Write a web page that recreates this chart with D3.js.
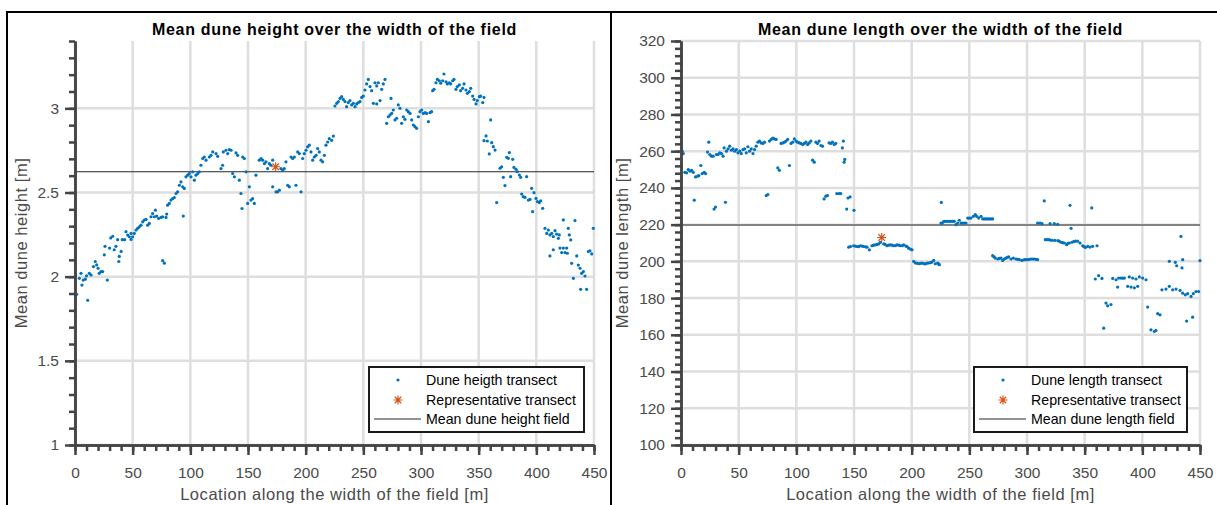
<!DOCTYPE html>
<html>
<head>
<meta charset="utf-8">
<script src="https://cdn.jsdelivr.net/npm/d3@7"></script>
<style>
  body { margin: 0; background: #fff; }
  text { font-family: "Liberation Sans", Arial, sans-serif; }
</style>
</head>
<body>
<div id="chart"></div>
<script>
// ---- data ----
// x = location along the width of the field [m], y = mean dune height [m]
var heightPts = [
  [1.4,1.895],[3.8,1.99],[5.2,2.02],[6,1.95],[7.2,1.98],[9,1.985],[10,2.005],[11,1.86],[12.4,2.02],[13.9,2.01],
  [16,2.06],[17.6,2.09],[18.8,2.07],[20,2.05],[21,2.02],[22.5,2.03],[24,2.03],[25.4,2.13],[26,2.18],[28,1.98],
  [30,2.17],[31,2.23],[32.7,2.24],[34,2.16],[35.5,2.18],[37,2.22],[38,2.09],[38.4,2.12],[40,2.15],[41,2.22],
  [43,2.22],[44.2,2.267],[45.7,2.247],[47.1,2.237],[48.6,2.221],[50,2.237],[48.6,2.257],[51.4,2.257],[52.9,2.277],[54.3,2.287],
  [55.8,2.296],[57.2,2.306],[58.7,2.326],[60.1,2.336],[61.6,2.34],[63,2.306],[64.5,2.316],[65.9,2.356],[67.3,2.375],[68.8,2.356],
  [69.7,2.395],[70.8,2.36],[72.5,2.346],[74.6,2.352],[76,2.356],[78.9,2.352],[79.5,2.372],[76,2.095],[77.5,2.08],[80.3,2.425],
  [81.8,2.435],[83.2,2.455],[84.7,2.464],[86.1,2.47],[87.6,2.494],[89,2.504],[90.5,2.543],[91.9,2.563],[93.4,2.534],[94.8,2.524],
  [93.9,2.36],[96.2,2.593],[97.7,2.603],[99.1,2.613],[100.6,2.593],[102,2.623],[103.5,2.573],[104.9,2.603],[106.4,2.613],[107.8,2.623],
  [109.2,2.662],[110.7,2.702],[112.1,2.711],[113.6,2.692],[116.5,2.711],[117.9,2.721],[119.4,2.741],[122.3,2.731],[123.7,2.715],[126.6,2.642],
  [128,2.662],[128.6,2.741],[130.9,2.751],[132.4,2.731],[133.8,2.755],[135.3,2.751],[136.7,2.613],[138.2,2.593],[139.6,2.735],[141,2.721],
  [142.5,2.573],[143.9,2.494],[144.8,2.405],[145.4,2.711],[146.8,2.702],[148.3,2.623],[149.7,2.435],[151.2,2.534],[152.6,2.455],[154,2.464],
  [155.5,2.435],[156.9,2.603],[159.8,2.692],[161.3,2.702],[162.7,2.692],[164.2,2.672],[165.6,2.682],[167,2.642],[168.5,2.672],[169.9,2.662],
  [171.4,2.692],[171.4,2.534],[174.3,2.504],[175.7,2.504],[177.2,2.514],[178.6,2.642],[180,2.632],[181.5,2.642],[182.9,2.682],[184.4,2.543],
  [185.8,2.534],[187.3,2.711],[188.7,2.702],[190.2,2.711],[191.6,2.543],[193.1,2.741],[194.5,2.731],[196,2.504],[197.4,2.702],[198.8,2.731],
  [200.3,2.751],[201.7,2.771],[203.2,2.781],[204.6,2.741],[206.1,2.692],[207.5,2.711],[209,2.721],[210.4,2.761],[211.8,2.741],[213.3,2.692],
  [214.7,2.682],[216.2,2.721],[217.6,2.781],[219.1,2.8],[220.5,2.82],[222.5,2.81],[224,2.835],
  [225.4,3.014],[226.9,3.03],[228.3,3.04],[229.8,3.059],[231.2,3.069],[232.7,3.053],[234.1,3.04],[235.5,3.01],[237,3.034],[238.4,3.046],
  [239.9,3.02],[241.3,3.03],[242.8,3.01],[244.2,3.026],[245.7,3.034],[247.1,3.04],[248.6,3.065],[250,3.073],[251.4,3.109],[252.9,3.145],
  [254.3,3.172],[255.8,3.129],[257.2,3.105],[258.7,3.03],[260.1,3.152],[261.6,3.026],[261.6,3.133],[263,3.152],[264.5,3.046],[265.9,3.113],
  [267.3,3.145],[268.8,3.172],[270.2,2.911],[271.7,2.95],[273.1,2.96],[274,3.059],[274.6,2.97],[276,2.99],[277.5,2.931],[278.9,2.941],
  [280.3,3.02],[281.8,3.0],[283.2,2.911],[284.7,2.95],[286.1,2.935],[287.6,2.99],[289,2.98],[290.5,2.97],[291.9,2.931],[293.4,2.901],
  [294.8,2.891],[296.2,2.881],[297.7,2.95],[299.1,2.98],[300.6,2.99],[302,2.97],[303.5,2.974],[304.9,2.97],[306.4,2.921],[307.8,2.974],
  [309.2,2.98],[310.1,3.105],[311.3,3.113],[313,3.152],[314.2,3.172],[315.9,3.164],[317.1,3.149],[318.8,3.164],[319.9,3.204],[321.7,3.158],
  [322.8,3.145],[324.6,3.152],[325.7,3.145],[327.5,3.164],[328.6,3.172],[330.3,3.113],[331.5,3.129],[333.2,3.139],[334.4,3.105],[336.1,3.119],
  [337.3,3.145],[339,3.109],[340.2,3.089],[341.9,3.099],[343.1,3.119],[344.8,3.073],[346,3.053],[347.7,3.026],[348.8,3.046],[350.6,3.069],
  [351.7,3.073],[353.5,3.034],[354.6,3.065],[360.4,2.931],[356.4,2.836],[354.6,2.808],[357.5,2.806],[359.2,2.729],[361.3,2.796],[362.7,2.772],
  [364.2,2.752],[365.6,2.44],[368.5,2.644],[369.9,2.653],[371.4,2.59],[372.8,2.541],[374.3,2.709],[375.7,2.703],[376.6,2.737],[377.7,2.594],
  [379.5,2.697],[380.6,2.649],[382.4,2.638],[383.5,2.624],[385.3,2.604],[386.4,2.59],[387.3,2.491],[388.7,2.475],[390.2,2.471],[391.6,2.594],
  [393.1,2.455],[394.5,2.459],[395.9,2.525],[396.8,2.386],[398,2.499],[399.7,2.465],[400.9,2.446],[402.6,2.44],[403.8,2.451],[405.5,2.406],
  [407.5,2.287],[409,2.257],[410.4,2.277],[411.8,2.248],[413.3,2.257],[414.7,2.238],[416.2,2.273],[417.6,2.253],[419.1,2.228],[419.9,2.248],
  [423.4,2.337],[427.7,2.287],[428.6,2.248],[429.8,2.218],[433.5,2.333],[411.8,2.123],[414.7,2.16],[420.5,2.17],[422,2.143],[423.4,2.17],
  [424.9,2.143],[426.3,2.17],[426.9,2.139],[430.6,2.079],[432.1,1.99],[435,2.123],[436.4,2.069],[437.9,2.05],[439.3,2.02],[440.8,2.03],
  [442.2,2.004],[438.4,1.925],[443.6,1.925],[445.1,2.149],[446.5,2.154],[448,2.135],[449.4,2.287]
];
var heightRep = [174, 2.653];
var heightMean = 2.623;

// x = location along the width of the field [m], y = mean dune length [m]
var lengthPts = [
  [1.1,260],[2,258.7],[3.4,248.5],[4.9,248.2],[6.3,250],[7.8,249.1],[9.2,249.6],[10.6,248.5],[11.5,233.3],[12.6,246],
  [14.4,246.4],[15.5,246.7],[17.2,252.2],[18.4,247.8],[20.1,248.5],[21.3,247.8],[23,259.5],[24.1,264.9],[25,258.2],[26.4,257.3],
  [27.9,257.3],[28.7,228.5],[29.9,229.6],[30.7,258.2],[32.2,258.2],[33.6,259.1],[35.1,258.7],[36.5,257.3],[37.4,261.8],[38.5,232.2],
  [39.4,260],[40.8,261.3],[42.2,262.7],[43.7,260.5],[45.1,261.3],[46.6,260],[48,260.9],[49.4,259.1],[50.9,260],[52.3,258.7],
  [53.7,260.9],[55.2,261.3],[56.6,259.1],[58,262.4],[59.5,260],[60.9,261.3],[62.4,258.7],[63.8,260.9],[65.2,262.7],[66.7,264.9],
  [68.1,265.5],[69.5,264.5],[71,264.2],[72.4,264.9],[73.9,235.8],[75.3,236.4],[76.7,265.5],[78.2,266.4],[79.6,267.1],[81,266.7],
  [82.5,266.4],[83.9,250.9],[85.3,249.6],[86.8,264.2],[88.2,264.5],[89.7,264.9],[91.1,265.5],[92.5,266.4],[94,252.2],[95.4,264.2],
  [96.8,264.9],[98.3,266.7],[99.7,265.5],[101.1,264.9],[102.6,264.5],[104,264.2],[105.5,263.6],[106.9,264.2],[108.3,264.9],[109.8,263.6],
  [111.2,264.5],[112.6,265.5],[114.1,255.1],[115.5,254],[117,264.9],[118.4,264.2],[119.8,265.5],[121.3,263.1],[122.7,262.7],[124.1,234],
  [125.6,235.5],[127,235.8],[128.4,264.5],[129.9,264.2],[131.3,264.9],[132.8,263.6],[134.2,264.2],[135.1,236.9],[137.1,236.9],[138.5,236.9],
  [139.9,261.8],[140.8,265.5],[141.4,254],[142,255.5],[143.7,228.5],[144.8,234.5],[146.6,235.1],[150,227.8],
  [145.4,207.7],[147,208.1],[149.7,208.5],[151,208.3],[152.6,208.1],[154,208],[155.5,208.5],[157,208.3],[158.4,208.1],[160,207.9],
  [161.3,207.7],[163.3,206.3],[165.6,208.5],[167,208.8],[168.5,209],[170,209.2],[171.4,209.5],[172.8,210.3],[175.7,209.5],[177,209.2],
  [178.6,208.5],[180,208.8],[181.5,209],[183,208.8],[184.4,208.5],[186,208.6],[187.3,209],[189,208.8],[190.2,208.5],[192,208.6],
  [193.1,209],[195,208.3],[196,208.1],[197.4,207.2],[198.8,206.7],[200.3,206.3],
  [201.7,200],[203.2,199.1],[204.6,199],[206.1,198.7],[207.5,198.9],[209,199.1],[210.4,198.8],[211.8,198.6],[213.3,199],[214.7,199.1],
  [216.2,199.3],[217.6,199.6],[219.1,200.5],[220.5,198.7],[222.5,199.1],[223.4,198.6],[224,198.2],[225.7,232.1],[226.3,220.7],[227.7,221.6],
  [225.4,220.9],[228.3,221.8],[229.8,221.8],[231.2,221.8],[232.7,221.8],[234.1,221.8],[235.5,221.8],[237,221.8],[238.4,220],[239.9,220.9],
  [241.3,222.4],[242.8,220.9],[244.2,220.9],[245.7,220.9],[247.1,220.9],[248.6,223.6],[250,223.6],[251.4,223.6],[253.5,224.5],[255.2,225.5],
  [256.4,224.5],[258.1,223.6],[260.1,224.5],[261.6,223.1],[263,223.1],[264.5,223.1],[266,223.1],[267.3,223.1],[268.8,223.1],[270.2,223.1],
  [270.2,203.1],[271.5,202.4],[272.5,201.8],[274.6,201.3],[276,201.6],[277.5,201.8],[278.9,200.5],[280.3,201.3],[281.8,201.8],[283,202.2],
  [284.1,202.4],[286.1,201.3],[288.2,201.8],[290.5,201.3],[292,201.1],[293.4,200.9],[295.7,200.5],[297.7,200.9],[299,200.9],[300.6,200.9],
  [302,201.1],[303.5,201.3],[305,201.3],[306.4,201.3],[307.8,201.1],[309.2,200.9],
  [309.2,220.9],[311.3,220.9],[313,220.5],[315,232.9],[320,220.5],[323.7,220.5],[326.6,220.2],[337.3,230.5],[338.2,218],[356.1,229.1],
  [315.9,211.8],[317.3,211.8],[318.8,211.8],[320.2,211.6],[321.7,211.5],[324,211.4],[326.6,211.3],[328,211],[329.5,210.4],[331,210.2],
  [332.4,210],[334.4,209.1],[335.5,209.8],[336.7,210],[339,210.4],[340.4,210.8],[341.9,211],[343.9,211],[346,210],[348.3,208.5],
  [349.4,208],[350.6,207.6],[352.6,208.2],[354.6,207.8],[356.9,208.2],[360.7,208.5],
  [359.2,190.4],[362.1,192.2],[365,190.7],[366.5,163.6],[368.5,177.3],[369.9,175.8],[372.8,176.5],[374.3,190.7],[377.2,190],[378.6,186],
  [379.5,190.9],[381.5,190.9],[383,190.9],[384.4,190.9],[387.3,186.4],[388.7,191.5],[390.2,186],[391.6,190.9],[393.1,185.6],[394.5,190.4],
  [396,186.4],[397.4,191.5],[400.3,190.9],[403.2,190],[404.6,175.1],[407.5,162.7],[410.4,161.8],[411.8,162.4],[413.3,171.5],[415.3,170.9],
  [417,184.5],[420.5,184.9],[423.4,186.4],[426.3,184.5],[429.2,184.9],[432.7,184.2],[435,182.7],[437.3,181.8],[439.3,182.4],[442.2,180.9],
  [444.2,182.4],[446.5,183.6],[448.8,183.6],[423.4,200],[428.6,199.5],[429.8,197.6],[433.5,213.6],[435,200.9],[434.4,196.4],[438.4,167.5],
  [443.6,169.6],[450,200.4]
];
var lengthRep = [174, 213];
var lengthMean = 219.8;

var xTicks = [0, 50, 100, 150, 200, 250, 300, 350, 400, 450];
var heightTicks = [1, 1.5, 2, 2.5, 3];
var lengthTicks = [100, 120, 140, 160, 180, 200, 220, 240, 260, 280, 300, 320];

var svgWidth = 1217;
var svgHeight = 505;
var plotTop = 41;
var plotBottom = 445;

var svg = d3.select("#chart")
  .append("svg")
  .attr("width", svgWidth)
  .attr("height", svgHeight);

svg.append("rect").attr("width", svgWidth).attr("height", svgHeight).attr("fill", "#fff");

// panel frames
svg.append("rect").attr("x", 7).attr("y", 12).attr("width", 604).attr("height", 520)
  .attr("fill", "none").attr("stroke", "#000").attr("stroke-width", 2);
svg.append("rect").attr("x", 611).attr("y", 12).attr("width", 640).attr("height", 520)
  .attr("fill", "none").attr("stroke", "#000").attr("stroke-width", 2);

function starPath(cx, cy, r) {
  var d = r * 0.72;
  return "M" + (cx - r) + "," + cy + "H" + (cx + r) +
    "M" + cx + "," + (cy - r) + "V" + (cy + r) +
    "M" + (cx - d) + "," + (cy - d) + "L" + (cx + d) + "," + (cy + d) +
    "M" + (cx - d) + "," + (cy + d) + "L" + (cx + d) + "," + (cy - d);
}

function drawPanel(o) {
  var g = svg.append("g");
  var x = d3.scaleLinear().domain([0, 450]).range([o.left, o.right]);
  var y = d3.scaleLinear().domain(o.yDomain).range([plotBottom, plotTop]);

  // grid
  g.selectAll(".gx").data(xTicks).enter().append("line")
    .attr("x1", d => x(d)).attr("x2", d => x(d))
    .attr("y1", plotTop).attr("y2", plotBottom)
    .attr("stroke", "#dedede").attr("stroke-width", 2.5);
  g.selectAll(".gy").data(o.yTicks).enter().append("line")
    .attr("x1", o.left).attr("x2", o.right)
    .attr("y1", d => y(d)).attr("y2", d => y(d))
    .attr("stroke", "#dedede").attr("stroke-width", 2.5);

  // mean line
  g.append("line")
    .attr("x1", x(0)).attr("x2", x(450))
    .attr("y1", y(o.mean)).attr("y2", y(o.mean))
    .attr("stroke", "#262626").attr("stroke-width", 1.1);

  // transect points
  g.selectAll(".pt").data(o.points).enter().append("circle")
    .attr("cx", d => x(d[0])).attr("cy", d => y(d[1]))
    .attr("r", 1.6).attr("fill", "#0072BD");

  // representative transect
  g.append("path")
    .attr("d", starPath(x(o.rep[0]), y(o.rep[1]), 4.5))
    .attr("stroke", "#D95319").attr("stroke-width", 1.2).attr("fill", "none");

  // axes: minor ticks first, then major
  var tickCol = "#444";
  var xMinor = g.append("g").attr("transform", `translate(0,${plotBottom})`)
    .call(d3.axisBottom(x).tickValues(d3.range(0, 451, 10)).tickSize(6).tickSizeOuter(0).tickFormat(""));
  var xMajor = g.append("g").attr("transform", `translate(0,${plotBottom})`)
    .call(d3.axisBottom(x).tickValues(xTicks).tickSize(10).tickSizeOuter(0).tickPadding(12));
  var yMinor = g.append("g").attr("transform", `translate(${o.left},0)`)
    .call(d3.axisLeft(y).tickValues(o.minorTicks).tickSize(6).tickSizeOuter(0).tickFormat(""));
  var yMajor = g.append("g").attr("transform", `translate(${o.left},0)`)
    .call(d3.axisLeft(y).tickValues(o.yTicks).tickSize(10).tickSizeOuter(0).tickPadding(6).tickFormat(o.fmt));

  [xMinor, xMajor, yMinor, yMajor].forEach(a => {
    a.select(".domain").attr("stroke", tickCol).attr("stroke-width", 2.5);
    a.selectAll(".tick line").attr("stroke", tickCol).attr("stroke-width", 2.5);
    a.selectAll("text").attr("fill", "#4a4a4a").attr("font-size", 15.5)
      .attr("font-family", "'Liberation Sans', Arial, sans-serif");
  });

  // title
  g.append("text")
    .attr("x", (o.left + o.right) / 2).attr("y", 35)
    .attr("text-anchor", "middle").attr("font-weight", "bold").attr("font-size", 16)
    .attr("letter-spacing", 0.7)
    .attr("fill", "#000").text(o.title);

  // axis labels
  g.append("text")
    .attr("x", (o.left + o.right) / 2).attr("y", 500)
    .attr("text-anchor", "middle").attr("font-size", 16.5).attr("letter-spacing", 0.55)
    .attr("fill", "#4a4a4a")
    .text("Location along the width of the field [m]");
  g.append("text")
    .attr("transform", `translate(${o.yLabelX},${(plotTop + plotBottom) / 2}) rotate(-90)`)
    .attr("text-anchor", "middle").attr("font-size", 16.5).attr("letter-spacing", 0.55)
    .attr("fill", "#4a4a4a")
    .text(o.yLabel);

  // legend
  var lg = g.append("g").attr("transform", `translate(${o.legend[0]},${o.legend[1]})`);
  lg.append("rect").attr("width", o.legend[2]).attr("height", 65)
    .attr("fill", "#fff").attr("stroke", "#1a1a1a").attr("stroke-width", 2);
  lg.append("circle").attr("cx", 29).attr("cy", 13).attr("r", 1.6).attr("fill", "#0072BD");
  lg.append("path").attr("d", starPath(29, 33, 4.5))
    .attr("stroke", "#D95319").attr("stroke-width", 1.2).attr("fill", "none");
  lg.append("line").attr("x1", 5).attr("x2", 52).attr("y1", 52).attr("y2", 52)
    .attr("stroke", "#262626").attr("stroke-width", 1.1);
  lg.selectAll(".lt").data(o.legendLabels).enter().append("text")
    .attr("x", 57).attr("y", (d, i) => 18 + i * 19.5)
    .attr("font-size", 14.2).attr("fill", "#000").text(d => d);
}

drawPanel({
  left: 75, right: 594,
  yDomain: [1, 3.4],
  yTicks: heightTicks,
  minorTicks: d3.range(10, 35).map(d => d / 10),
  fmt: d3.format("~g"),
  points: heightPts, rep: heightRep, mean: heightMean,
  title: "Mean dune height over the width of the field",
  yLabel: "Mean dune height [m]", yLabelX: 27,
  legend: [369, 367, 215],
  legendLabels: ["Dune heigth transect", "Representative transect", "Mean dune height field"]
});

drawPanel({
  left: 681, right: 1200,
  yDomain: [100, 320],
  yTicks: lengthTicks,
  minorTicks: d3.range(100, 321, 4),
  fmt: d3.format("d"),
  points: lengthPts, rep: lengthRep, mean: lengthMean,
  title: "Mean dune length over the width of the field",
  yLabel: "Mean dune length [m]", yLabelX: 628,
  legend: [974, 367, 213],
  legendLabels: ["Dune length transect", "Representative transect", "Mean dune length field"]
});
</script>
</body>
</html>
